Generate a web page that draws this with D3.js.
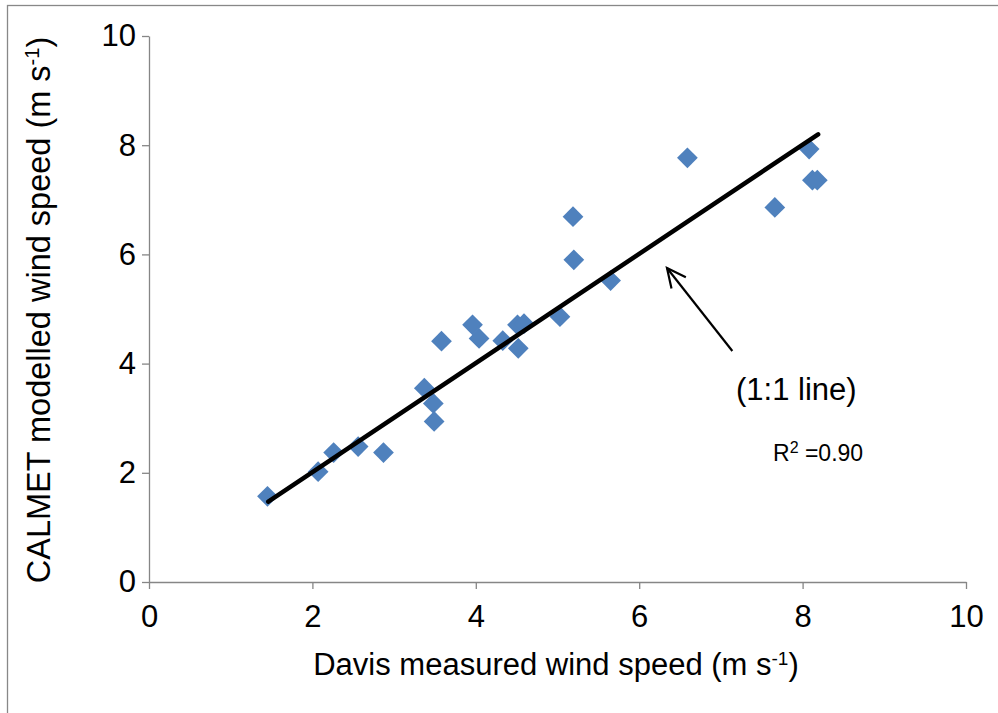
<html>
<title>CALMET vs Davis</title>
<script src="https://d3js.org/d3.v7.min.js"></script>

<style>
body { margin: 0; background: #fff; font-family: 'Liberation Sans', Arial, sans-serif; }
.axis path, .axis line { stroke: #868686; stroke-width: 1.3px; }
.axis text { font-size: 31px; fill: #000; font-family: 'Liberation Sans', Arial, sans-serif; }
text.title { font-size: 31px; fill: #000; }
text.note { font-size: 31px; fill: #000; }
</style>

<body>
<div id="chart"></div>

<script>
// Davis measured (x) vs CALMET modelled (y), m/s
var davis  = [1.45, 2.07, 2.26, 2.56, 2.87, 3.37, 3.48, 3.49, 3.58, 3.96, 4.04, 4.33,
              4.51, 4.59, 4.52, 5.03, 5.19, 5.20, 5.65, 6.59, 7.66, 8.08, 8.12, 8.18];
var calmet = [1.57, 2.02, 2.37, 2.48, 2.37, 3.55, 3.27, 2.94, 4.41, 4.71, 4.46, 4.42,
              4.71, 4.73, 4.28, 4.86, 6.69, 5.90, 5.52, 7.77, 6.86, 7.93, 7.36, 7.36];

// 1:1 line
var lineX = [1.46, 8.19];
var lineY = [1.47, 8.20];

var xTicks = [0, 2, 4, 6, 8, 10];
var yTicks = [0, 2, 4, 6, 8, 10];

var width = 998;
var height = 713;
var plotLeft = 149, plotRight = 966, plotTop = 36, plotBottom = 582;

var svg = d3.select("#chart").append("svg")
	.attr("width", width).attr("height", height);

// chart border (only top and left visible in the picture)
svg.append("rect")
	.attr("x", 7.5).attr("y", 5.5)
	.attr("width", 1100).attr("height", 900)
	.attr("fill", "none").attr("stroke", "#888").attr("stroke-width", 1.3);

var x = d3.scaleLinear().domain([0, 10]).range([plotLeft, plotRight]);
var y = d3.scaleLinear().domain([0, 10]).range([plotBottom, plotTop]);

var xAxis = d3.axisBottom(x).tickValues(xTicks).tickSizeOuter(0).tickSizeInner(7).tickPadding(16);
svg.append("g").attr("class", "axis")
	.attr("transform", "translate(0," + plotBottom + ")").call(xAxis);

var yAxis = d3.axisLeft(y).tickValues(yTicks).tickSizeOuter(0).tickSizeInner(7).tickPadding(6);
svg.append("g").attr("class", "axis")
	.attr("transform", "translate(" + plotLeft + ",0)").call(yAxis);

// points
var pts = davis.map(function (d, i) { return [d, calmet[i]]; });
svg.selectAll("path.pt").data(pts).enter().append("path")
	.attr("class", "pt")
	.attr("d", d3.symbol().type(d3.symbolSquare).size(215))
	.attr("transform", function (d) {
		return "translate(" + x(d[0]) + "," + y(d[1]) + ") rotate(45)";
	})
	.attr("fill", "#4F81BD");

// 1:1 line
svg.append("line")
	.attr("x1", x(lineX[0])).attr("y1", y(lineY[0]))
	.attr("x2", x(lineX[1])).attr("y2", y(lineY[1]))
	.attr("stroke", "#000").attr("stroke-width", 4.5).attr("stroke-linecap", "round");

// arrow
var tail = [x(7.14), y(4.23)];
var tip = [x(6.34), y(5.75)];
svg.append("line")
	.attr("x1", tail[0]).attr("y1", tail[1])
	.attr("x2", tip[0]).attr("y2", tip[1])
	.attr("stroke", "#000").attr("stroke-width", 2.2);
var ang = Math.atan2(tail[1] - tip[1], tail[0] - tip[0]);
var headLen = 21, spread = 0.45;
svg.append("path")
	.attr("d", "M" + (tip[0] + headLen * Math.cos(ang - spread)) + "," + (tip[1] + headLen * Math.sin(ang - spread)) +
		"L" + tip[0] + "," + tip[1] +
		"L" + (tip[0] + headLen * Math.cos(ang + spread)) + "," + (tip[1] + headLen * Math.sin(ang + spread)))
	.attr("fill", "none").attr("stroke", "#000").attr("stroke-width", 2.2);

svg.append("text").attr("class", "note")
	.attr("x", 736).attr("y", 400).text("(1:1 line)");

var r2 = svg.append("text").attr("class", "note")
	.attr("x", 773).attr("y", 461).style("font-size", "23px");
r2.append("tspan").text("R");
r2.append("tspan").attr("baseline-shift", "super").style("font-size", "16px").text("2");
r2.append("tspan").text(" =0.90");

// axis titles
var xt = svg.append("text").attr("class", "title")
	.attr("x", 556).attr("y", 675).attr("text-anchor", "middle");
xt.append("tspan").text("Davis measured wind speed (m s");
xt.append("tspan").attr("baseline-shift", "super").style("font-size", "19px").text("-1");
xt.append("tspan").text(")");

var yt = svg.append("text").attr("class", "title")
	.attr("transform", "translate(50," + 310 + ") rotate(-90)")
	.attr("text-anchor", "middle").style("font-size", "32.5px");
yt.append("tspan").text("CALMET modelled wind speed (m s");
yt.append("tspan").attr("baseline-shift", "super").style("font-size", "20px").text("-1");
yt.append("tspan").text(")");
</script>
</body>
</html>
